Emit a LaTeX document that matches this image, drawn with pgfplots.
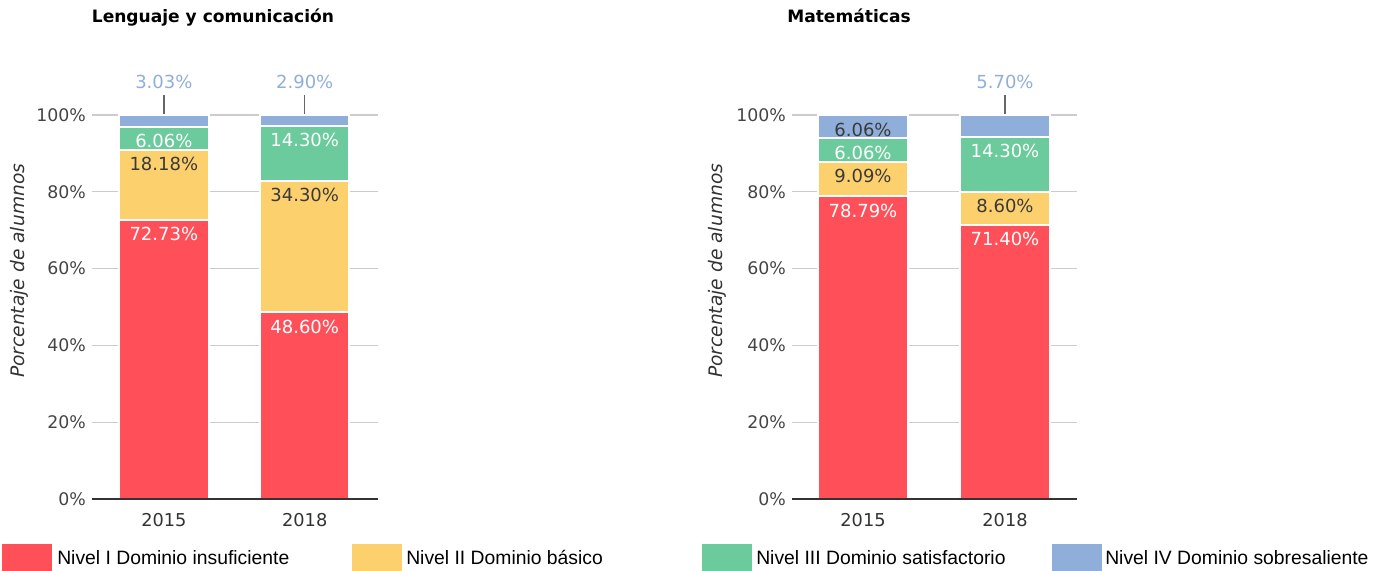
\documentclass[border=0pt]{standalone}
\usepackage{fontspec}
\setmainfont{DejaVu Sans}
\newfontfamily\legfont{Liberation Sans}
\usepackage{pgfplots}
\pgfplotsset{compat=1.18}

\definecolor{cRed}{HTML}{FF4F59}
\definecolor{cYel}{HTML}{FDD06E}
\definecolor{cGrn}{HTML}{6BCB9D}
\definecolor{cBlu}{HTML}{8FAFDA}
\definecolor{cGrid}{HTML}{CCCCCC}
\definecolor{cAxis}{HTML}{333333}
\definecolor{cTick}{HTML}{444444}
\definecolor{cDark}{HTML}{3A3A3A}
\definecolor{cLead}{HTML}{666666}

\newcommand\fs[1]{\fontsize{#1}{#1}\selectfont}

\tikzset{
  lead/.style={cLead, line width=1pt},
  outlbl/.style={anchor=south, inner sep=0pt, yshift=4pt, text=cBlu, font=\fs{13.5pt}},
}

\pgfplotsset{
  niveles/.style={
    scale only axis, width=214.5pt, height=288pt,
    ybar stacked, bar width=67pt,
    ymin=0, ymax=100, ytick={0,20,...,100},
    xmin=-0.51, xmax=1.52, xtick={0,1}, xticklabels={2015,2018},
    yticklabel={\pgfmathprintnumber[assume math mode=true]{\tick}\%},
    ymajorgrids, grid style={cGrid, line width=1pt},
    major tick length=0pt,
    axis x line*=bottom, axis y line*=left,
    x axis line style={cAxis, line width=1pt, -},
    y axis line style={draw=none},
    yticklabel style={font=\fs{13pt}, text=cTick, xshift=-1pt},
    xticklabel style={font=\fs{13.3pt}, text=cAxis, yshift=-7.5pt},
    ylabel={Porcentaje de alumnos},
    ylabel style={font=\itshape\fs{14pt}, text=cAxis, anchor=center},
    % el estilo por defecto ya trae yshift=6pt: se compensa
    title style={font=\bfseries\fs{12.8pt}, text=black, anchor=base, inner sep=0pt, yshift=-6pt},
    clip=false,
  },
  seg/.style={fill=#1, draw=white, line width=1.5pt},
  % etiqueta arriba de cada segmento (pgfplots la pone al centro)
  lbl/.style={nodes near coords, point meta=explicit symbolic,
    visualization depends on=rawy \as \rawy,
    every node near coord/.append style={anchor=north, inner sep=0pt,
      yshift=\rawy*1.44pt-5pt, font=\fs{13.5pt}, text=#1}},
}

\begin{document}
\begin{tikzpicture}
\useasboundingbox (0pt,0pt) rectangle (1038.75pt,-428.25pt);

% Lenguaje y comunicacion
\begin{axis}[niveles, name=lc, at={(69pt,-374.25pt)}, anchor=south west,
  title={Lenguaje y comunicación},
  title style={at={(axis description cs:0.423,1.241)}},
  ylabel style={at={(axis description cs:-0.255,0.594)}}]
\addplot[seg=cRed, lbl=white] coordinates {(0,72.73) [72.73\%] (1,48.60) [48.60\%]};
\addplot[seg=cYel, lbl=cDark] coordinates {(0,18.18) [18.18\%] (1,34.30) [34.30\%]};
\addplot[seg=cGrn, lbl=white] coordinates {(0,6.06) [6.06\%] (1,14.30) [14.30\%]};
\addplot[seg=cBlu] coordinates {(0,3.03) (1,2.90)};
\draw[lead] (axis cs:0,100) -- (axis cs:0,105.2) node[outlbl] {3.03\%};
\draw[lead] (axis cs:1,100) -- (axis cs:1,105.2) node[outlbl] {2.90\%};
\end{axis}
\draw[cAxis, line width=1pt] (lc.south west) -- (lc.south east);

% Matematicas
\begin{axis}[niveles, name=mat, at={(594pt,-374.25pt)}, anchor=south west,
  width=213.75pt, xmin=-0.5, xmax=1.507,
  title={Matemáticas},
  title style={at={(axis description cs:0.2,1.241)}},
  ylabel style={at={(axis description cs:-0.262,0.594)}}]
\addplot[seg=cRed, lbl=white] coordinates {(0,78.79) [78.79\%] (1,71.40) [71.40\%]};
\addplot[seg=cYel, lbl=cDark] coordinates {(0,9.09) [9.09\%] (1,8.60) [8.60\%]};
\addplot[seg=cGrn, lbl=white] coordinates {(0,6.06) [6.06\%] (1,14.30) [14.30\%]};
\addplot[seg=cBlu, lbl=cDark] coordinates {(0,6.06) [6.06\%] (1,5.70) [\phantom{0}]};
\draw[lead] (axis cs:1,100) -- (axis cs:1,105.2) node[outlbl] {5.70\%};
\end{axis}
\draw[cAxis, line width=1pt] (mat.south west) -- (mat.south east);

% leyenda
\begin{scope}[x=0.75pt, y=-0.75pt, every node/.style={anchor=base west, inner sep=0pt, font=\legfont\fs{14.5pt}}]
  \fill[cRed] (2,544) rectangle (52,571);
  \node at (57,564) {Nivel I Dominio insuficiente};
  \fill[cYel] (352,544) rectangle (402,571);
  \node at (406,564) {Nivel II Dominio básico};
  \fill[cGrn] (702,544) rectangle (752,571);
  \node at (756,564) {Nivel III Dominio satisfactorio};
  \fill[cBlu] (1052,544) rectangle (1102,571);
  \node at (1105,564) {Nivel IV Dominio sobresaliente};
\end{scope}
\end{tikzpicture}
\end{document}
